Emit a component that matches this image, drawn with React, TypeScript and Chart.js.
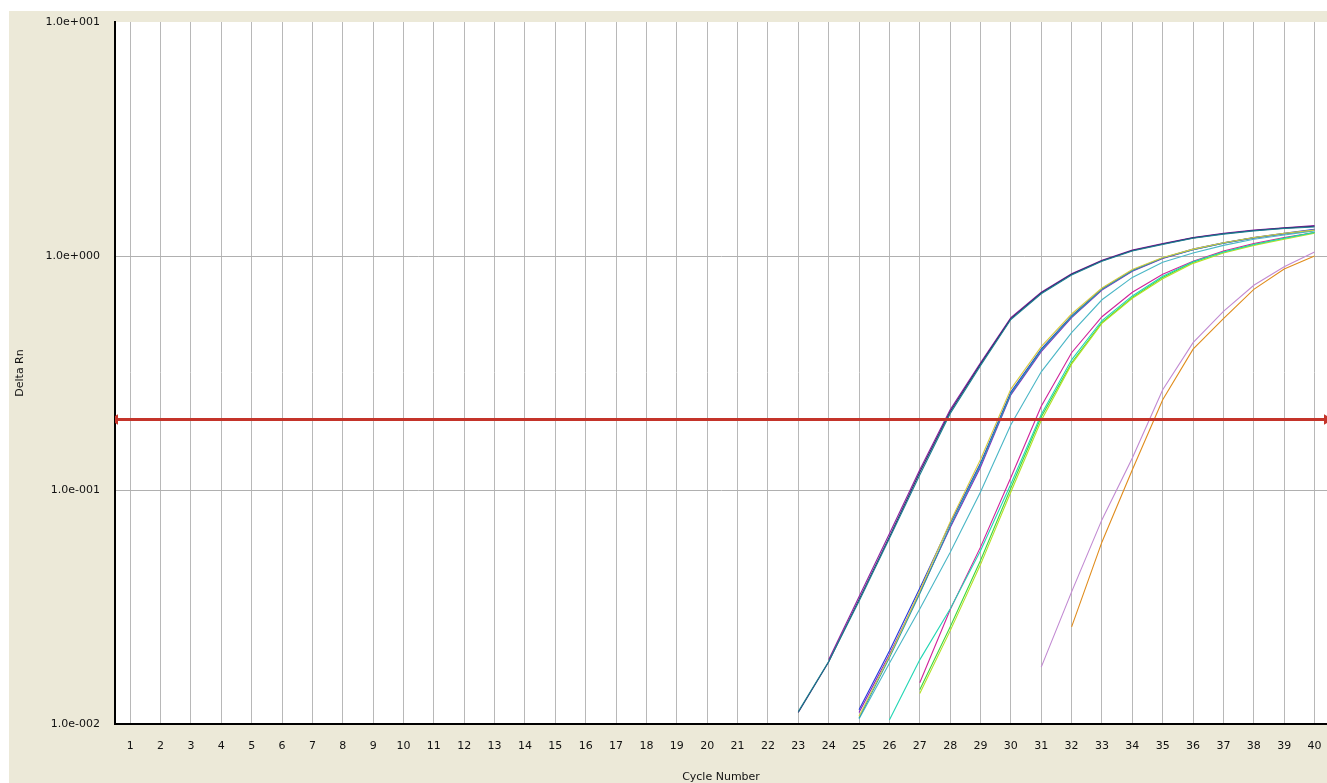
import React, { useEffect, useRef } from "react";
import { Chart, registerables } from "chart.js";

Chart.register(...registerables);

// ---- axis data ----
const cycleNumbers = [
  1, 2, 3, 4, 5, 6, 7, 8, 9, 10, 11, 12, 13, 14, 15, 16, 17, 18, 19, 20,
  21, 22, 23, 24, 25, 26, 27, 28, 29, 30, 31, 32, 33, 34, 35, 36, 37, 38, 39, 40,
];
const yTickValues = [0.01, 0.1, 1, 10];
const yTickLabels = ["1.0e-002", "1.0e-001", "1.0e+000", "1.0e+001"];
const xMin = 0.5;
const xMax = 40.41;
const thresholdValue = 0.2;

// ---- amplification curves (value per cycle, starting at the given cycle) ----
const tealAStart = 23;
const tealA = [0.0113, 0.0185, 0.0335, 0.062, 0.116, 0.212, 0.34, 0.535, 0.69, 0.83, 0.95, 1.05, 1.12, 1.19, 1.24, 1.28, 1.31, 1.33];
const navyAStart = 23;
const navyA = [0.0112, 0.0184, 0.034, 0.063, 0.119, 0.216, 0.345, 0.54, 0.695, 0.835, 0.955, 1.055, 1.125, 1.195, 1.245, 1.285, 1.315, 1.34];
const purpleAStart = 24;
const purpleA = [0.0188, 0.035, 0.065, 0.122, 0.22, 0.35, 0.545, 0.70, 0.84, 0.96, 1.06, 1.13, 1.20, 1.25, 1.29, 1.32, 1.35];

const blueBStart = 25;
const blueB = [0.0115, 0.0205, 0.038, 0.072, 0.13, 0.262, 0.40, 0.555, 0.725, 0.87, 0.98, 1.07, 1.14, 1.20, 1.25, 1.30];
const purpleBStart = 25;
const purpleB = [0.0112, 0.0198, 0.0365, 0.069, 0.125, 0.255, 0.39, 0.545, 0.715, 0.86, 0.975, 1.065, 1.135, 1.195, 1.245, 1.295];
const yellowBStart = 25;
const yellowB = [0.0108, 0.0195, 0.037, 0.073, 0.135, 0.27, 0.41, 0.565, 0.73, 0.875, 0.985, 1.07, 1.14, 1.20, 1.25, 1.29];
const tealBStart = 25;
const tealB = [0.0106, 0.0192, 0.036, 0.070, 0.128, 0.258, 0.395, 0.55, 0.72, 0.865, 0.98, 1.065, 1.135, 1.195, 1.245, 1.29];
const lightTealBStart = 25;
const lightTealB = [0.0105, 0.0182, 0.031, 0.054, 0.098, 0.19, 0.32, 0.47, 0.65, 0.81, 0.94, 1.03, 1.11, 1.18, 1.23, 1.28];

const magentaCStart = 27;
const magentaC = [0.015, 0.0308, 0.057, 0.113, 0.228, 0.386, 0.55, 0.70, 0.835, 0.95, 1.05, 1.13, 1.20, 1.26];
const greenCStart = 27;
const greenC = [0.014, 0.026, 0.050, 0.102, 0.205, 0.35, 0.52, 0.665, 0.81, 0.94, 1.04, 1.12, 1.19, 1.26];
const limeCStart = 27;
const limeC = [0.0135, 0.025, 0.048, 0.098, 0.198, 0.345, 0.515, 0.66, 0.80, 0.93, 1.03, 1.11, 1.18, 1.25];
const cyanCStart = 26;
const cyanC = [0.0104, 0.0188, 0.031, 0.055, 0.106, 0.21, 0.36, 0.53, 0.675, 0.82, 0.945, 1.04, 1.12, 1.19, 1.26];

const orchidDStart = 31;
const orchidD = [0.0175, 0.0367, 0.0747, 0.137, 0.268, 0.426, 0.58, 0.75, 0.90, 1.04];
const orangeDStart = 32;
const orangeD = [0.026, 0.060, 0.122, 0.243, 0.40, 0.54, 0.72, 0.88, 1.0];

const curveList = [
  { start: tealAStart, values: tealA, color: "#1c7f90" },
  { start: navyAStart, values: navyA, color: "#2a2a6a" },
  { start: purpleAStart, values: purpleA, color: "#9020a0" },
  { start: yellowBStart, values: yellowB, color: "#d4cc40" },
  { start: tealBStart, values: tealB, color: "#2a9ca6" },
  { start: purpleBStart, values: purpleB, color: "#8a22c4" },
  { start: blueBStart, values: blueB, color: "#2438dc" },
  { start: lightTealBStart, values: lightTealB, color: "#4ab6c6" },
  { start: cyanCStart, values: cyanC, color: "#22d6b4" },
  { start: limeCStart, values: limeC, color: "#b4e024" },
  { start: greenCStart, values: greenC, color: "#3cd83c" },
  { start: magentaCStart, values: magentaC, color: "#d0229a" },
  { start: orchidDStart, values: orchidD, color: "#c28ad2" },
  { start: orangeDStart, values: orangeD, color: "#e08c1c" },
];

const thresholdColor = "#c4342a";
const fontFamily = "'DejaVu Sans', Verdana, sans-serif";

const whitePlotPlugin = {
  id: "whitePlot",
  beforeDraw(chart: any) {
    const { ctx, chartArea } = chart;
    if (!chartArea) return;
    ctx.save();
    ctx.fillStyle = "#ffffff";
    ctx.fillRect(chartArea.left, chartArea.top, chartArea.right - chartArea.left, chartArea.bottom - chartArea.top);
    ctx.restore();
  },
};

export default function App() {
  const canvasRef = useRef<HTMLCanvasElement | null>(null);

  useEffect(() => {
    if (!canvasRef.current) return;

    const curveSets = curveList.map((c) => ({
      type: "line" as const,
      data: c.values.map((v, i) => ({ x: c.start + i, y: v })),
      borderColor: c.color,
      backgroundColor: c.color,
      borderWidth: 1.1,
      pointRadius: 0,
      tension: 0,
      order: 1,
    }));

    const thresholdSet = {
      type: "line" as const,
      data: [
        { x: xMin, y: thresholdValue },
        { x: xMax, y: thresholdValue },
      ],
      borderColor: thresholdColor,
      backgroundColor: thresholdColor,
      borderWidth: 3,
      pointStyle: "triangle",
      pointRadius: 6,
      pointRotation: [270, 90],
      pointBorderWidth: 0,
      order: -1,
    };

    const chart = new Chart(canvasRef.current, {
      type: "line",
      data: { datasets: [thresholdSet as any, ...curveSets] },
      plugins: [whitePlotPlugin],
      options: {
        animation: false,
        responsive: false,
        events: [],
        layout: { autoPadding: false, padding: { top: 11, right: 0, left: 0, bottom: 0 } },
        plugins: {
          legend: { display: false },
          tooltip: { enabled: false },
        },
        scales: {
          x: {
            type: "linear",
            min: xMin,
            max: xMax,
            afterBuildTicks: (scale: any) => {
              scale.ticks = cycleNumbers.map((v) => ({ value: v }));
            },
            afterFit: (scale: any) => {
              scale.height = 59;
              scale.paddingLeft = 0;
              scale.paddingRight = 0;
            },
            ticks: {
              autoSkip: false,
              maxRotation: 0,
              padding: 16,
              color: "#111",
              font: { family: fontFamily, size: 11 },
              callback: (_v: any, i: number) => String(cycleNumbers[i]),
            },
            grid: { color: "#b8b8b8", lineWidth: 1, drawTicks: false },
            border: { display: true, color: "#000000", width: 2 },
            title: {
              display: true,
              text: "Cycle Number",
              color: "#111",
              font: { family: fontFamily, size: 11 },
              padding: { top: 0, bottom: -1 },
            },
          },
          y: {
            type: "logarithmic",
            min: 0.01,
            max: 10,
            afterBuildTicks: (scale: any) => {
              scale.ticks = yTickValues.map((v) => ({ value: v }));
            },
            afterFit: (scale: any) => {
              scale.width = 106;
              scale.paddingTop = 0;
              scale.paddingBottom = 0;
            },
            ticks: {
              autoSkip: false,
              padding: 15,
              color: "#111",
              font: { family: fontFamily, size: 11 },
              callback: (_v: any, i: number) => yTickLabels[i],
            },
            grid: {
              color: (ctx: any) => (ctx.tick && ctx.tick.value >= 10 ? "rgba(0,0,0,0)" : "#b0b0b0"),
              lineWidth: 1,
              drawTicks: false,
            },
            border: { display: true, color: "#000000", width: 2 },
            title: {
              display: true,
              text: "Delta Rn",
              color: "#111",
              font: { family: fontFamily, size: 11 },
              padding: { top: 5, bottom: 0 },
            },
          },
        },
      } as any,
    });

    return () => chart.destroy();
  }, []);

  return (
    <div
      style={{
        position: "fixed",
        left: 9,
        top: 11,
        width: 1318,
        height: 772,
        background: "#ECE9D8",
        overflow: "hidden",
      }}
    >
      <canvas ref={canvasRef} width={1318} height={772} style={{ display: "block" }} />
    </div>
  );
}
